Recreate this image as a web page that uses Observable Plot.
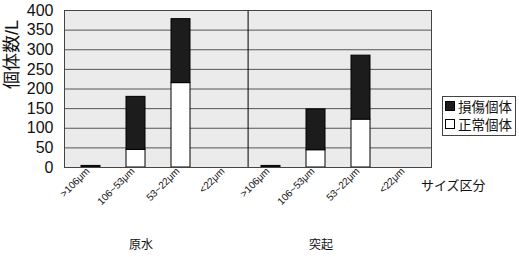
<!DOCTYPE html>
<html>
<head>
<meta charset="utf-8">
<script src="https://cdn.jsdelivr.net/npm/d3@7"></script>
<script src="https://cdn.jsdelivr.net/npm/@observablehq/plot@0.6"></script>
<style>
  body { margin: 0; background: #fff; }
  #wrap { position: relative; width: 519px; height: 257px; font-family: "Liberation Sans", "Noto Sans CJK JP", sans-serif; }
  #legend { position: absolute; left: 442px; top: 96px; width: 72px; height: 38px; border: 1px solid #444; background: #fff; font-size: 13.5px; color: #111; }
  #legend div { display: flex; align-items: center; height: 18px; padding-left: 2px; }
  #legend span.sw { display: inline-block; width: 8px; height: 8px; border: 1px solid #000; margin-right: 3px; }
</style>
</head>
<body>
<div id="wrap"></div>
<script>
const groups = ["原水", "突起"];
const sizes = [">106μm", "106~53μm", "53~22μm", "<22μm"];
const normal = [0, 45, 215, 0, 0, 44, 122, 0];     // 正常個体
const damaged = [4, 135, 163, 0, 4, 104, 163, 0];  // 損傷個体
const statuses = ["正常個体", "損傷個体"];
const yTicks = [0, 50, 100, 150, 200, 250, 300, 350, 400];

const keys = [];
groups.forEach(g => sizes.forEach(s => keys.push(g + "|" + s)));
const rows = [];
keys.forEach((k, i) => {
  rows.push({key: k, status: statuses[0], value: normal[i]});
  rows.push({key: k, status: statuses[1], value: damaged[i]});
});

const font = '"Liberation Sans", "Noto Sans CJK JP", sans-serif';

const chart = Plot.plot({
  width: 519,
  height: 257,
  marginLeft: 64,
  marginRight: 88,
  marginTop: 10,
  marginBottom: 90,
  style: {fontFamily: font, background: "transparent", color: "#111"},
  x: {domain: keys, paddingInner: 0.58, paddingOuter: 0.29, axis: null},
  y: {domain: [0, 400], axis: null},
  color: {domain: statuses, range: ["#ffffff", "#1c1c1c"]},
  marks: [
    Plot.frame({fill: "#ebebeb"}),
    Plot.gridY(yTicks, {stroke: "#555", strokeOpacity: 1, strokeWidth: 1}),
    Plot.ruleX([keys[4]], {dx: -22.9, stroke: "#000", strokeWidth: 1}),
    Plot.barY(rows, {x: "key", y: "value", fill: "status", stroke: "#000", strokeWidth: 1, order: null}),
    Plot.frame({stroke: "#444"}),
    Plot.axisY(yTicks, {tickSize: 0, tickPadding: 11, fontSize: 16, label: null, fill: "#111"}),
    Plot.axisX(keys, {tickSize: 0, tickPadding: 2, tickRotate: -45, fontSize: 10, label: null,
      tickFormat: d => d.split("|")[1], dx: -3, fill: "#111"}),
    Plot.text(["個体数/L"], {frameAnchor: "left", rotate: -90, dx: -52, fontSize: 18, fill: "#111"}),
    Plot.text(["サイズ区分"], {frameAnchor: "bottom-right", dx: 54, dy: 22, textAnchor: "end", fontSize: 13, fill: "#111"}),
    Plot.text([{g: "原水", k: keys[1]}, {g: "突起", k: keys[5]}], {x: "k", text: "g", frameAnchor: "bottom", dy: 81, dx: 5, fontSize: 12, fill: "#111"})
  ]
});

const wrap = document.getElementById("wrap");
wrap.appendChild(chart);
const legend = document.createElement("div");
legend.id = "legend";
legend.innerHTML = '<div><span class="sw" style="background:#1c1c1c"></span>損傷個体</div>' +
                   '<div><span class="sw" style="background:#fff"></span>正常個体</div>';
wrap.appendChild(legend);
chart.style.position = "absolute";
chart.style.left = "0";
chart.style.top = "0";
</script>
</body>
</html>
